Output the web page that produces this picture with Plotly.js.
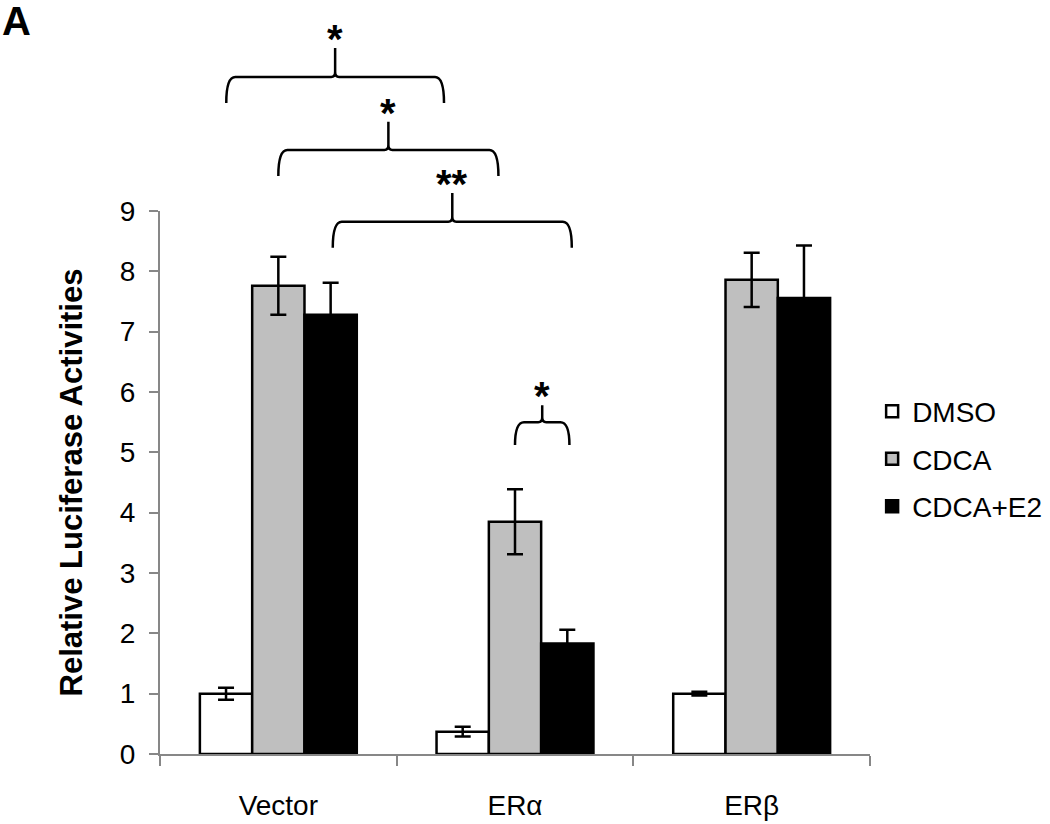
<!DOCTYPE html>
<html><head><meta charset="utf-8">
<script src="https://cdn.plot.ly/plotly-3.0.1.min.js"></script>
<style>html,body{margin:0;padding:0;background:#fff}</style>
</head><body>
<div id="chart" style="width:1050px;height:824px"></div>
<script>
// ---- data ----
const categories = ['Vector', 'ERα', 'ERβ'];
const seriesNames = ['DMSO', 'CDCA', 'CDCA+E2'];
const dmsoValues = [1.00, 0.37, 1.00];
const dmsoErrors = [0.10, 0.08, 0.03];
const cdcaValues = [7.76, 3.85, 7.86];
const cdcaErrors = [0.48, 0.54, 0.45];
const cdcaE2Values = [7.28, 1.83, 7.56];
const cdcaE2Errors = [0.53, 0.23, 0.87];
const yTickValues = [0, 1, 2, 3, 4, 5, 6, 7, 8, 9];
// significance brackets (x in category units, y in value units)
const bracketLeft   = [-0.22, 0.00, 0.23, 1.00];
const bracketRight  = [0.70, 0.93, 1.24, 1.23];
const bracketBottom = [10.79, 9.58, 8.39, 5.12];
const bracketBar    = [11.22, 10.01, 8.82, 5.50];
const bracketTip    = [11.70, 10.48, 9.30, 5.78];
const bracketLabels = ['*', '*', '**', '*'];

// ---- styling ----
const FONT = 'Liberation Sans, Arial, sans-serif';
const AXIS_GREY = '#878787';
const fills = ['#ffffff', '#bfbfbf', '#000000'];
const values = [dmsoValues, cdcaValues, cdcaE2Values];
const errors = [dmsoErrors, cdcaErrors, cdcaE2Errors];

const traces = seriesNames.map((name, i) => ({
  type: 'bar',
  name: name,
  x: categories,
  y: values[i],
  legendgroup: 'g' + i,
  marker: {color: fills[i], line: {color: '#000', width: 2.5}},
  error_y: {type: 'data', array: errors[i], visible: true, color: '#000', thickness: 2.5, width: 8},
  hoverinfo: 'skip'
}));

const X_MIN = -0.5, X_MAX = 2.5, Y_MIN = 0, Y_MAX = 9;
const PW = 1050 - 160 - 180, PH = 824 - 211 - 70;
const px = x => (x - X_MIN) / (X_MAX - X_MIN);
const py = y => (y - Y_MIN) / (Y_MAX - Y_MIN);
const rX = 9 / PW, rY = 9 / PH, tX = 4 / PW, tY = 5 / PH;

const shapes = [];
const annotations = [];
bracketLeft.forEach((l, k) => {
  const x1 = px(l), x2 = px(bracketRight[k]), xc = (x1 + x2) / 2;
  const yb = py(bracketBottom[k]), yh = py(bracketBar[k]), yt = py(bracketTip[k]);
  const path =
    `M ${x1},${yb} Q ${x1},${yh} ${x1 + rX},${yh} L ${xc - tX},${yh} Q ${xc},${yh} ${xc},${yh + tY} L ${xc},${yt} ` +
    `M ${xc},${yh + tY} Q ${xc},${yh} ${xc + tX},${yh} L ${x2 - rX},${yh} Q ${x2},${yh} ${x2},${yb}`;
  shapes.push({type: 'path', xref: 'paper', yref: 'paper', path: path, line: {color: '#000', width: 2.5}});
  annotations.push({
    xref: 'paper', yref: 'paper', x: xc, y: yt, xanchor: 'center', yanchor: 'bottom',
    text: '<b>' + bracketLabels[k] + '</b>', showarrow: false,
    font: {family: FONT, size: 40, color: '#000'}, yshift: -15
  });
});
annotations.push({
  xref: 'paper', yref: 'paper', x: -160 / PW, y: 1 + 190 / PH, xanchor: 'left', yanchor: 'middle',
  text: '<b>A</b>', showarrow: false, font: {family: FONT, size: 40, color: '#000'}
});

const layout = {
  width: 1050, height: 824,
  margin: {l: 160, r: 180, t: 211, b: 70, autoexpand: false},
  paper_bgcolor: '#fff', plot_bgcolor: '#fff',
  font: {family: FONT, color: '#000'},
  barmode: 'group', bargap: 0.337, bargroupgap: 0,
  showlegend: true,
  legend: {
    x: 1.003, xanchor: 'left', y: 0.543, yanchor: 'middle',
    font: {family: FONT, size: 28, color: '#000'},
    traceorder: 'grouped', tracegroupgap: 8, bgcolor: 'rgba(0,0,0,0)'
  },
  xaxis: {
    type: 'category', range: [X_MIN, X_MAX], automargin: false,
    showline: true, linecolor: AXIS_GREY, linewidth: 2,
    ticks: 'outside', tickson: 'boundaries', ticklen: 10, tickwidth: 2, tickcolor: AXIS_GREY,
    tickfont: {family: FONT, size: 28, color: '#000'}, ticklabelstandoff: 25,
    showgrid: false, zeroline: false, fixedrange: true
  },
  yaxis: {
    range: [Y_MIN, Y_MAX], tickvals: yTickValues, automargin: false,
    showline: true, linecolor: AXIS_GREY, linewidth: 2,
    ticks: 'outside', ticklen: 9, tickwidth: 2, tickcolor: AXIS_GREY,
    tickfont: {family: FONT, size: 28, color: '#000'}, ticklabelstandoff: 8,
    showgrid: false, zeroline: false, fixedrange: true,
    title: {text: '<b>Relative Luciferase Activities</b>', font: {family: FONT, size: 31, color: '#000'}, standoff: 28}
  },
  shapes: shapes,
  annotations: annotations
};

Plotly.newPlot('chart', traces, layout, {staticPlot: true, displayModeBar: false});
</script>
</body></html>
